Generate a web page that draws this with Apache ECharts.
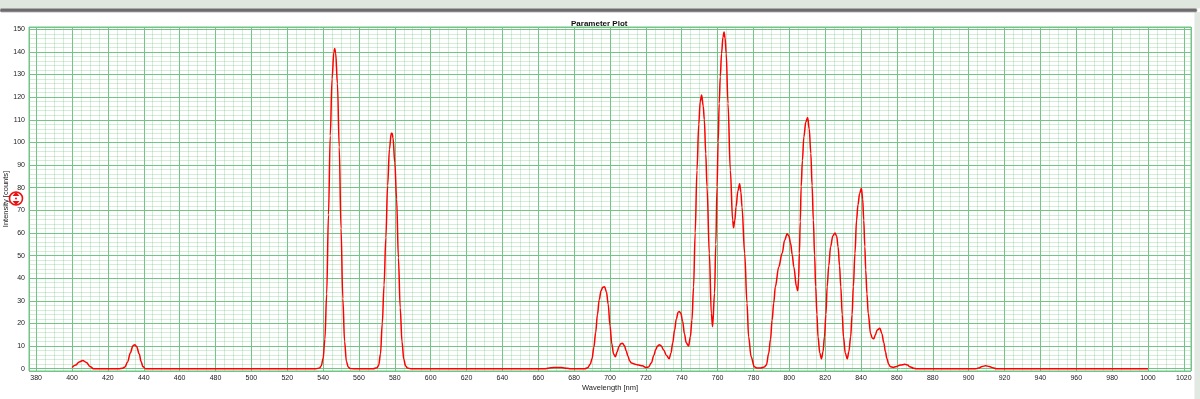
<!DOCTYPE html>
<html>
<head>
<meta charset="utf-8">
<script src="https://cdn.jsdelivr.net/npm/echarts@6/dist/echarts.min.js"></script>
<style>
html,body{margin:0;padding:0;background:#fff;}
#c{width:1200px;height:399px;}
</style>
</head>
<body>
<div id="c"></div>
<script>
const title = 'Parameter Plot';
const xName = 'Wavelength [nm]';
const yName = 'Intensity [counts]';
const xTicks = [380,400,420,440,460,480,500,520,540,560,580,600,620,640,660,680,700,720,740,760,780,800,820,840,860,880,900,920,940,960,980,1000,1020];
const yTicks = [0,10,20,30,40,50,60,70,80,90,100,110,120,130,140,150];

const wavelengths = [
400,402,404,406,408,410,412,
426,428,429.5,431,432.5,434,435,436,437.5,438.5,439.5,441,
536,538,539,540,541,542,543,544,545,546,546.5,547,548,549,550,551,552,553,554,555,557,
568,570,571,572,573,574,575,576,577,578,578.5,579,580,581,582,583,584,585,586,587,589,
664,667,670,673,676,678,
686,687.5,689,690,691,692,693,694,695,696,697,698,699,700,701,702,703,704,705,706,707,708,709,710,711,712,714,716,718,720,
721.5,723,724.5,725.5,726.5,727.5,728.5,730,731.5,733,734,735,736,737,738,738.6,739.5,740.5,741.5,742.5,743.8,744.8,745.7,746.6,747.5,748.5,749.5,750.3,751.1,752,752.6,753.4,754.1,755.4,756.5,757.2,
758.3,759,759.7,760.3,760.9,761.5,762.2,763,763.6,764.2,764.8,765.8,767.1,768.4,768.9,769.6,770.3,771.3,772.3,773,773.6,775.1,776.4,777.3,778.7,780.5,782,784,786,787.2,788.5,789.5,790.4,791.3,792.2,794.1,796,797.4,798.8,799.8,800.7,801.6,802.5,804,804.7,
805.2,805.6,806.1,806.6,807.3,808.1,809.2,810.2,811.1,812,812.7,813.4,814.1,814.7,815.4,816,817,817.9,818.8,819.6,820.4,821.1,822,823,824.3,825.5,826.4,827.2,828,828.7,829.5,830.2,831.2,832.3,
833.2,834.2,835,835.7,836.6,837.5,838.3,839.2,840.2,840.9,841.5,842.1,842.6,843.3,844,845.3,846.2,847.1,848,849,850.5,851.6,852.7,853.6,854.4,855.4,856.4,858,859.3,862,864.4,866,867.2,869.4,871,
904,905.5,907.5,909.5,911.5,913.5,915.5,1000
];
const intensities = [
0.5,1.6,3.0,3.6,2.8,1.0,0,
0,0.2,0.8,3,7,10.2,10.6,9.8,6.5,3.2,1,0,
0,0.3,1.3,4.5,13,33,68,103,128,140,141.5,139.5,126,98,62,31,12,3.2,0.8,0.1,0,
0,0.4,1.5,6.5,20,37,58,81,97,104,104,102,91,75,49,27,12,4.2,1.3,0.3,0,
0,0.4,0.6,0.5,0.2,0,
0,0.4,2,4.5,9.5,16,24,30.5,34.5,36,36.2,34,28.5,19,11,6.5,5.3,7.5,9.8,11,11.3,10.3,8,5.5,3.4,2.5,2,1.6,1.3,0.5,
0.8,2.5,6,8.5,10,10.6,10.2,8.2,5.8,4.4,7,11.5,17,22,25,25.3,24.5,21,15.5,11.5,10,14,21.5,36,60,87.7,108,118,121,116,110,95,80.4,51,24.5,18.6,
33.3,55,80.4,100,117.2,129,139.2,146.5,148.8,146,139.2,117.2,87.7,65.7,62.3,65.5,71.5,78.5,81.7,78,71.5,51,28.9,14.1,5.3,0.9,0.3,0.3,0.8,1.6,6.8,13,21.5,29,36.2,45,51,56.8,59.7,58.5,55.4,50.5,45,36.2,34.5,
40,51,65,80.4,92,102.4,109,111,106,95.1,81,65.7,50,36.2,24,14.1,7,4.4,7.5,14.1,24,36.2,45.5,53.9,58.8,60,58.5,53.9,45.5,36.2,24,14.1,7,4.4,
7.5,14.1,24,36.2,51,65.7,72.5,77.4,79.8,75,65.7,54,43.6,33,24.5,15.6,13.6,13.2,15,17.1,17.9,15.5,11.5,7.5,4.5,2,0.9,0.6,0.9,1.6,2.0,1.6,0.9,0.2,0,
0,0.3,1,1.3,1,0.4,0,0
];

const majorColor = '#72c587';
const minorColor = 'rgba(110,195,130,0.30)';
const font = '"Liberation Sans", Arial, sans-serif';

const chart = echarts.init(document.getElementById('c'), null, {renderer: 'canvas'});
chart.setOption({
  animation: false,
  backgroundColor: '#ffffff',
  title: {
    text: title,
    left: 566,
    top: 15,
    textStyle: {fontSize: 8, fontWeight: 'bold', color: '#111', fontFamily: font}
  },
  grid: {
    left: 29, right: 9, top: 27, bottom: 28,
    containLabel: false,
    outerBoundsMode: 'none',
    show: true, borderColor: majorColor, borderWidth: 1, backgroundColor: '#ffffff'
  },
  xAxis: {
    type: 'value',
    min: 376, max: 1024,
    splitNumber: 30, minInterval: 20, maxInterval: 20,
    name: xName, nameLocation: 'middle', nameGap: 13, nameMoveOverlap: false,
    nameTextStyle: {fontSize: 7.5, color: '#222', fontFamily: font},
    axisLine: {show: false},
    axisTick: {show: false},
    axisLabel: {
      fontSize: 7, color: '#222', margin: 4, fontFamily: font,
      formatter: v => (xTicks.indexOf(v) >= 0 ? String(v) : '')
    },
    splitLine: {show: true, lineStyle: {color: majorColor, width: 1}},
    minorTick: {show: false, splitNumber: 4},
    minorSplitLine: {show: true, lineStyle: {color: minorColor, width: 1}}
  },
  yAxis: {
    type: 'value',
    min: -1, max: 151,
    splitNumber: 15, minInterval: 10, maxInterval: 10,
    name: yName, nameLocation: 'middle', nameGap: 19, nameMoveOverlap: false,
    nameTextStyle: {fontSize: 7.5, color: '#222', fontFamily: font},
    axisLine: {show: false},
    axisTick: {show: false},
    axisLabel: {
      fontSize: 7, color: '#222', margin: 4, fontFamily: font,
      formatter: v => (yTicks.indexOf(v) >= 0 ? String(v) : '')
    },
    splitLine: {show: true, lineStyle: {color: majorColor, width: 1}},
    minorTick: {show: false, splitNumber: 5},
    minorSplitLine: {show: true, lineStyle: {color: minorColor, width: 1}}
  },
  series: [{
    type: 'line',
    data: wavelengths.map((w, i) => [w, intensities[i]]),
    showSymbol: false,
    smooth: 0.35,
    smoothMonotone: 'x',
    lineStyle: {color: '#ff0000', width: 1.5},
    z: 5
  }],
  graphic: [
    {type: 'rect', shape: {x: 0, y: 0, width: 1200, height: 8.5}, style: {fill: '#dfe7df'}, z: -10},
    {type: 'rect', shape: {x: 0, y: 8.5, width: 1197, height: 3.5, r: 1.5}, style: {fill: '#6c6c6c', stroke: '#a8a8a8', lineWidth: 0.8}, z: -9},
    {type: 'rect', shape: {x: 1194.5, y: 12, width: 6, height: 387}, style: {fill: '#e2e8e2'}, z: -10},
    {type: 'circle', shape: {cx: 16, cy: 198.5, r: 6.5}, style: {fill: '#ffffff', stroke: '#ee1111', lineWidth: 1.6}, z: 100},
    {type: 'polygon', shape: {points: [[16, 191.8], [12.6, 196], [19.4, 196]]}, style: {fill: '#ee1111'}, z: 101},
    {type: 'polygon', shape: {points: [[16, 205.2], [12.6, 201], [19.4, 201]]}, style: {fill: '#ee1111'}, z: 101},
    {type: 'circle', shape: {cx: 16, cy: 198.5, r: 1}, style: {fill: '#ee1111'}, z: 101}
  ]
});
</script>
</body>
</html>
